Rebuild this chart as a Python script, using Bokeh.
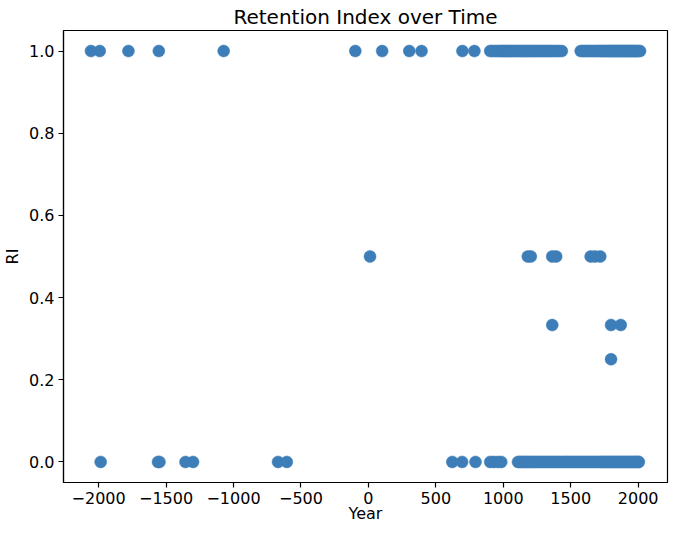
from bokeh.plotting import figure
from bokeh.models import Range1d, FixedTicker, ColumnDataSource
from bokeh.embed import file_html
from bokeh.resources import INLINE

# --- data ---
years_ri_1 = [-2057, -1992, -1779, -1554, -1073, -97, 102, 303, 394, 697, 786,
              903, 921, 940, 958, 975, 990, 1003, 1016, 1030, 1045, 1060, 1072, 1088,
              1100, 1115, 1130, 1142, 1155, 1170, 1183, 1197, 1210, 1226, 1240, 1255,
              1270, 1285, 1300, 1316, 1330, 1345, 1360, 1378, 1395, 1412, 1434,
              1574, 1590, 1605, 1620, 1636, 1650, 1665, 1680, 1694, 1708, 1720, 1732,
              1745, 1757, 1768, 1779, 1790, 1800, 1810, 1820, 1830, 1840, 1850, 1860,
              1870, 1880, 1890, 1900, 1910, 1920, 1930, 1940, 1950, 1960, 1970, 1980,
              1990, 2000, 2014]
years_ri_0 = [-1985, -1560, -1549, -1356, -1300, -670, -605, 622, 695, 794,
              903, 930, 960, 985,
              1109, 1122, 1135, 1150, 1165, 1180, 1195, 1210, 1225, 1240, 1255, 1270,
              1285, 1300, 1315, 1330, 1345, 1360, 1375, 1390, 1405, 1420, 1438, 1455,
              1470, 1485, 1500, 1515, 1530, 1545, 1560, 1575, 1590, 1605, 1620, 1635,
              1650, 1665, 1680, 1695, 1710, 1722, 1735, 1748, 1760, 1772, 1784, 1796,
              1808, 1820, 1832, 1844, 1856, 1868, 1880, 1892, 1904, 1916, 1928, 1940,
              1952, 1964, 1976, 1988, 2000, 2005]
years_ri_half = [12, 1182, 1204, 1363, 1392, 1648, 1680, 1719]
years_ri_third = [1363, 1799, 1871]
years_ri_quarter = [1799]

x_ticks = [-2000, -1500, -1000, -500, 0, 500, 1000, 1500, 2000]
y_ticks = [0.0, 0.2, 0.4, 0.6, 0.8, 1.0]

year = years_ri_1 + years_ri_0 + years_ri_half + years_ri_third + years_ri_quarter
ri = ([1.0] * len(years_ri_1) + [0.0] * len(years_ri_0) + [0.5] * len(years_ri_half)
      + [1 / 3] * len(years_ri_third) + [0.25] * len(years_ri_quarter))

src = ColumnDataSource(dict(year=year, ri=ri))

xmin, xmax = min(year), max(year)
ymin, ymax = min(ri), max(ri)
xpad = (xmax - xmin) * 0.05
ypad = (ymax - ymin) * 0.05

FONT = "DejaVu Sans"

p = figure(width=669, height=525, output_backend="svg", toolbar_location=None,
           x_range=Range1d(xmin - xpad, xmax + xpad),
           y_range=Range1d(ymin - ypad, ymax + ypad),
           title="Retention Index over Time",
           min_border_left=0, min_border_right=2, min_border_top=0, min_border_bottom=0)

p.scatter("year", "ri", source=src, size=12, fill_color="#3e7eb8",
          line_color="#3e7eb8", line_width=0.5)

p.title.align = "center"
p.title.text_font = FONT
p.title.text_font_size = "20px"
p.title.text_font_style = "normal"
p.title.text_color = "black"
p.title.standoff = 4

p.xgrid.visible = False
p.ygrid.visible = False
p.background_fill_color = "white"
p.border_fill_color = "white"
p.outline_line_color = "black"
p.outline_line_width = 1.2
p.outline_line_alpha = 1.0

p.xaxis.ticker = FixedTicker(ticks=x_ticks)
p.xaxis.major_label_overrides = {t: (f"\u2212{abs(t)}" if t < 0 else str(t)) for t in x_ticks}
p.yaxis.ticker = FixedTicker(ticks=y_ticks)
p.yaxis.major_label_overrides = {t: f"{t:.1f}" for t in y_ticks}

p.xaxis.axis_label = "Year"
p.yaxis.axis_label = "RI"

for ax in (p.xaxis, p.yaxis):
    ax.axis_label_text_font = FONT
    ax.axis_label_text_font_size = "16px"
    ax.axis_label_text_font_style = "normal"
    ax.axis_label_text_color = "black"
    ax.major_label_text_font = FONT
    ax.major_label_text_font_size = "16px"
    ax.major_label_text_color = "black"
    ax.major_tick_out = 5
    ax.major_tick_in = 0
    ax.minor_tick_out = 0
    ax.minor_tick_in = 0
    ax.major_tick_line_color = "black"
    ax.major_tick_line_width = 1.2
    ax.axis_line_color = "black"
    ax.axis_line_width = 1.2

p.xaxis.major_label_standoff = 4
p.xaxis.axis_label_standoff = -3
p.yaxis.major_label_standoff = 4
p.yaxis.axis_label_standoff = 4

open("out.html", "w").write(file_html(p, INLINE))
